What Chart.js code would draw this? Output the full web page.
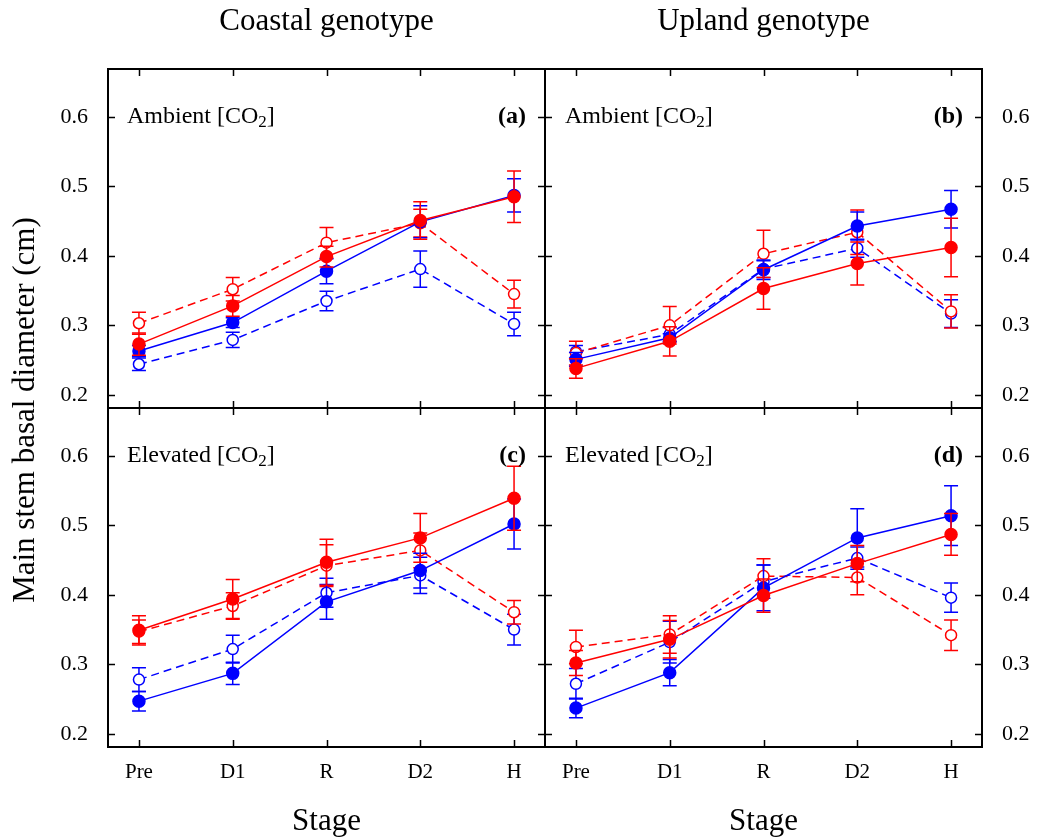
<!DOCTYPE html>
<html>
<head>
<meta charset="utf-8">
<script src="https://cdn.jsdelivr.net/npm/chart.js@4.4.1/dist/chart.umd.min.js"></script>
<style>
  body { margin: 0; background: #fff; }
  #page { position: relative; width: 1037px; height: 840px; overflow: hidden;
          font-family: 'Liberation Serif', 'Times New Roman', serif; color: #000; }
  #page canvas { position: absolute; left: 0; top: 0; }
  .txt { position: absolute; white-space: nowrap; }
  .big { font-size: 31px; line-height: 30px; text-align: center; }
  .lab { font-size: 24px; line-height: 24px; }
  .lab .sub { font-size: 17px; position: relative; top: 4px; }
  .tag { font-size: 24px; line-height: 24px; font-weight: bold; text-align: right; }
</style>
</head>
<body>
<div id="page">
  <canvas id="panelA" width="1037" height="840"></canvas>
  <canvas id="panelB" width="1037" height="840"></canvas>
  <canvas id="panelC" width="1037" height="840"></canvas>
  <canvas id="panelD" width="1037" height="840"></canvas>

  <div class="txt big" style="left:108px; width:437px; top:5px;">Coastal genotype</div>
  <div class="txt big" style="left:545px; width:437px; top:5px;">Upland genotype</div>
  <div class="txt big" style="left:108px; width:437px; top:805px;">Stage</div>
  <div class="txt big" style="left:545px; width:437px; top:805px;">Stage</div>
  <div class="txt big" style="left:-226px; width:500px; top:395px; transform:rotate(-90deg);">Main stem basal diameter (cm)</div>

  <div class="txt lab" style="left:127px; top:103px;">Ambient [CO<span class="sub">2</span>]</div>
  <div class="txt tag" style="left:108px; width:418px; top:103px;">(a)</div>
  <div class="txt lab" style="left:565px; top:103px;">Ambient [CO<span class="sub">2</span>]</div>
  <div class="txt tag" style="left:545px; width:418px; top:103px;">(b)</div>
  <div class="txt lab" style="left:127px; top:442px;">Elevated [CO<span class="sub">2</span>]</div>
  <div class="txt tag" style="left:108px; width:418px; top:442px;">(c)</div>
  <div class="txt lab" style="left:565px; top:442px;">Elevated [CO<span class="sub">2</span>]</div>
  <div class="txt tag" style="left:545px; width:418px; top:442px;">(d)</div>
</div>

<script>
const stages = ['Pre', 'D1', 'R', 'D2', 'H'];
const yTicks = [0.2, 0.3, 0.4, 0.5, 0.6];

// (a) coastal, ambient
const a_redFilled = [0.273, 0.328, 0.399, 0.451, 0.485];
const a_redFilledSE = [0.016, 0.015, 0.015, 0.027, 0.037];
const a_blueFilled = [0.263, 0.304, 0.378, 0.449, 0.487];
const a_blueFilledSE = [0.008, 0.007, 0.018, 0.023, 0.024];
const a_redOpen = [0.303, 0.352, 0.419, 0.447, 0.345];
const a_redOpenSE = [0.016, 0.017, 0.022, 0.020, 0.020];
const a_blueOpen = [0.244, 0.279, 0.335, 0.381, 0.302];
const a_blueOpenSE = [0.009, 0.011, 0.014, 0.026, 0.017];

// (b) upland, ambient
const b_redFilled = [0.238, 0.277, 0.353, 0.389, 0.412];
const b_redFilledSE = [0.014, 0.021, 0.030, 0.031, 0.042];
const b_blueFilled = [0.251, 0.282, 0.380, 0.443, 0.467];
const b_blueFilledSE = [0.010, 0.006, 0.014, 0.020, 0.027];
const b_redOpen = [0.260, 0.300, 0.403, 0.434, 0.320];
const b_redOpenSE = [0.017, 0.027, 0.034, 0.032, 0.024];
const b_blueOpen = [0.262, 0.287, 0.381, 0.411, 0.317];
const b_blueOpenSE = [0.009, 0.010, 0.012, 0.013, 0.020];

// (c) coastal, elevated
const c_redFilled = [0.349, 0.394, 0.447, 0.482, 0.539];
const c_redFilledSE = [0.021, 0.028, 0.033, 0.035, 0.046];
const c_blueFilled = [0.247, 0.287, 0.390, 0.435, 0.502];
const c_blueFilledSE = [0.014, 0.016, 0.025, 0.025, 0.036];
const c_redOpen = [0.347, 0.384, 0.442, 0.464, 0.375];
const c_redOpenSE = [0.017, 0.019, 0.030, 0.025, 0.017];
const c_blueOpen = [0.278, 0.322, 0.403, 0.428, 0.350];
const c_blueOpenSE = [0.017, 0.020, 0.021, 0.026, 0.022];

// (d) upland, elevated
const d_redFilled = [0.302, 0.336, 0.399, 0.445, 0.487];
const d_redFilledSE = [0.018, 0.027, 0.024, 0.026, 0.030];
const d_blueFilled = [0.237, 0.288, 0.410, 0.482, 0.514];
const d_blueFilledSE = [0.014, 0.019, 0.033, 0.042, 0.043];
const d_redOpen = [0.325, 0.343, 0.427, 0.425, 0.342];
const d_redOpenSE = [0.024, 0.027, 0.025, 0.025, 0.022];
const d_blueOpen = [0.272, 0.332, 0.419, 0.453, 0.396];
const d_blueOpenSE = [0.022, 0.030, 0.024, 0.016, 0.021];

const RED = '#ff0000';
const BLUE = '#0000ff';
const FONT = "'Liberation Serif', 'Times New Roman', serif";

function series(values, errs, color, open) {
    return {
        data: values.map((v, i) => ({ x: i, y: v })),
        errors: errs,
        borderColor: color,
        borderWidth: 1.5,
        borderDash: open ? [8, 5] : [],
        fill: false,
        tension: 0,
        pointRadius: open ? 5.5 : 6,
        pointBorderWidth: 1.5,
        pointBorderColor: color,
        pointBackgroundColor: open ? '#ffffff' : color
    };
}

// error bars, drawn under each dataset's own line and markers
const errorBars = {
    id: 'errorBars',
    beforeDatasetDraw(chart, args) {
        const ds = chart.data.datasets[args.index];
        if (!ds.errors) return;
        const { ctx, scales: { x, y } } = chart;
        ctx.save();
        ctx.strokeStyle = ds.borderColor;
        ctx.lineWidth = 1.5;
        ctx.setLineDash([]);
        ds.data.forEach((p, i) => {
            const px = x.getPixelForValue(p.x);
            const top = y.getPixelForValue(p.y + ds.errors[i]);
            const bot = y.getPixelForValue(p.y - ds.errors[i]);
            ctx.beginPath();
            ctx.moveTo(px, top); ctx.lineTo(px, bot);
            ctx.moveTo(px - 7, top); ctx.lineTo(px + 7, top);
            ctx.moveTo(px - 7, bot); ctx.lineTo(px + 7, bot);
            ctx.stroke();
        });
        ctx.restore();
    }
};

// box round the panel with inward ticks on all four sides
const panelFrame = {
    id: 'panelFrame',
    beforeDatasetsDraw(chart) {
        const { ctx, chartArea: a, scales: { x, y } } = chart;
        ctx.save();
        ctx.strokeStyle = '#000';
        ctx.lineWidth = 1.5;
        ctx.beginPath();
        yTicks.forEach(v => {
            const py = Math.round(y.getPixelForValue(v)) + 0.5;
            ctx.moveTo(a.left, py); ctx.lineTo(a.left + 7, py);
            ctx.moveTo(a.right - 7, py); ctx.lineTo(a.right, py);
        });
        stages.forEach((s, i) => {
            const px = Math.round(x.getPixelForValue(i)) + 0.5;
            ctx.moveTo(px, a.top); ctx.lineTo(px, a.top + 7);
            ctx.moveTo(px, a.bottom - 7); ctx.lineTo(px, a.bottom);
        });
        ctx.stroke();
        ctx.lineWidth = 2;
        ctx.strokeRect(a.left, a.top, a.right - a.left, a.bottom - a.top);
        ctx.restore();
    }
};

function makePanel(id, sets, box, side, showX) {
    const yWidth = side === 'left' ? 70 : 50;
    const xHeight = 60;
    const padding = {
        top: box.top,
        left: side === 'left' ? box.left - yWidth : box.left,
        right: side === 'right' ? 1037 - box.right - yWidth : 1037 - box.right,
        bottom: showX ? 840 - box.bottom - xHeight : 840 - box.bottom
    };
    return new Chart(document.getElementById(id), {
        type: 'line',
        data: { datasets: sets },
        options: {
            responsive: false,
            animation: false,
            devicePixelRatio: 1,
            events: [],
            layout: { padding: padding },
            plugins: { legend: { display: false }, tooltip: { enabled: false } },
            scales: {
                x: {
                    type: 'linear',
                    min: -0.33,
                    max: 4.33,
                    afterBuildTicks: s => { s.ticks = stages.map((n, i) => ({ value: i })); },
                    afterFit: s => { if (showX) s.height = xHeight; },
                    grid: { display: false, drawTicks: false },
                    border: { display: false },
                    ticks: {
                        display: showX,
                        padding: 13,
                        color: '#000',
                        font: { family: FONT, size: 21 },
                        callback: v => stages[v]
                    }
                },
                y: {
                    position: side,
                    min: 0.181,
                    max: 0.669,
                    afterBuildTicks: s => { s.ticks = yTicks.map(v => ({ value: v })); },
                    afterFit: s => { s.width = yWidth; },
                    grid: { display: false, drawTicks: false },
                    border: { display: false },
                    ticks: {
                        padding: 20,
                        color: '#000',
                        font: { family: FONT, size: 22 },
                        callback: v => v.toFixed(1)
                    }
                }
            }
        },
        plugins: [panelFrame, errorBars]
    });
}

document.fonts.ready.then(() => {
    makePanel('panelA', [
        series(a_redFilled, a_redFilledSE, RED, false),
        series(a_blueFilled, a_blueFilledSE, BLUE, false),
        series(a_redOpen, a_redOpenSE, RED, true),
        series(a_blueOpen, a_blueOpenSE, BLUE, true)
    ], { left: 108, top: 69, right: 545, bottom: 408 }, 'left', false);

    makePanel('panelB', [
        series(b_redFilled, b_redFilledSE, RED, false),
        series(b_blueFilled, b_blueFilledSE, BLUE, false),
        series(b_redOpen, b_redOpenSE, RED, true),
        series(b_blueOpen, b_blueOpenSE, BLUE, true)
    ], { left: 545, top: 69, right: 982, bottom: 408 }, 'right', false);

    makePanel('panelC', [
        series(c_redFilled, c_redFilledSE, RED, false),
        series(c_blueFilled, c_blueFilledSE, BLUE, false),
        series(c_redOpen, c_redOpenSE, RED, true),
        series(c_blueOpen, c_blueOpenSE, BLUE, true)
    ], { left: 108, top: 408, right: 545, bottom: 747 }, 'left', true);

    makePanel('panelD', [
        series(d_redFilled, d_redFilledSE, RED, false),
        series(d_blueFilled, d_blueFilledSE, BLUE, false),
        series(d_redOpen, d_redOpenSE, RED, true),
        series(d_blueOpen, d_blueOpenSE, BLUE, true)
    ], { left: 545, top: 408, right: 982, bottom: 747 }, 'right', true);
});
</script>
</body>
</html>
